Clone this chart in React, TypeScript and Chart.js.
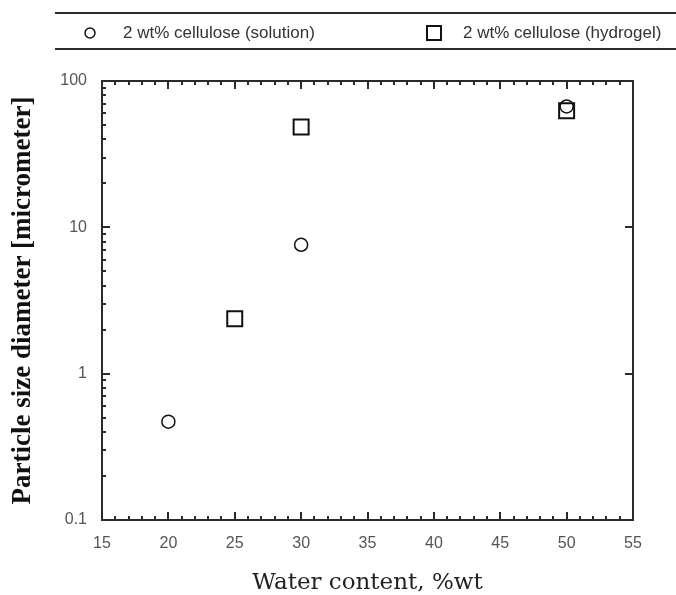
import React, { useEffect, useRef } from 'react';
import { Chart, registerables } from 'chart.js';

Chart.register(...registerables);

// ---- data ----
const seriesLabels = ['2 wt% cellulose (solution)', '2 wt% cellulose (hydrogel)'];
const solutionWater = [20, 30, 50];
const solutionSize = [0.47, 7.6, 67];
const hydrogelWater = [25, 30, 50];
const hydrogelSize = [2.37, 48.5, 62.5];
const xTickValues = [15, 20, 25, 30, 35, 40, 45, 50, 55];
const yTickValues = [0.1, 1, 10, 100];
const xTitle = 'Water content, %wt';
const yTitle = 'Particle size diameter [micrometer]';

const INK = '#2b2b2b';

const framePlugin = {
  id: 'frameTicks',
  beforeDatasetsDraw(chart: any) {
    const { ctx, chartArea: a, scales } = chart;
    const xs = scales.x;
    const ys = scales.y;
    ctx.save();
    ctx.strokeStyle = INK;
    ctx.lineWidth = 2;
    ctx.beginPath();
    // x ticks (major every 5, minor every 1), bottom and top, inward
    for (let v = xTickValues[0]; v <= xTickValues[xTickValues.length - 1]; v += 1) {
      const px = Math.round(xs.getPixelForValue(v));
      const major = xTickValues.includes(v);
      const len = major ? 8 : 4;
      ctx.moveTo(px, a.bottom);
      ctx.lineTo(px, a.bottom - len);
      ctx.moveTo(px, a.top);
      ctx.lineTo(px, a.top + len);
    }
    // y ticks (log): left major+minor, right major only
    for (let k = 0; k < yTickValues.length; k++) {
      const base = yTickValues[k];
      const py = Math.round(ys.getPixelForValue(base));
      ctx.moveTo(a.left, py);
      ctx.lineTo(a.left + 8, py);
      ctx.moveTo(a.right, py);
      ctx.lineTo(a.right - 8, py);
      if (k < yTickValues.length - 1) {
        for (let m = 2; m <= 9; m++) {
          const my = Math.round(ys.getPixelForValue(base * m));
          ctx.moveTo(a.left, my);
          ctx.lineTo(a.left + 4, my);
        }
      }
    }
    ctx.stroke();
    ctx.strokeRect(a.left, a.top, a.right - a.left, a.bottom - a.top);
    ctx.restore();
  },
};

const legendPlugin = {
  id: 'boxLegend',
  afterDraw(chart: any) {
    const { ctx } = chart;
    ctx.save();
    ctx.strokeStyle = INK;
    ctx.lineWidth = 2;
    ctx.beginPath();
    ctx.moveTo(55, 13);
    ctx.lineTo(676, 13);
    ctx.moveTo(55, 49);
    ctx.lineTo(676, 49);
    ctx.stroke();
    const items = [
      { mx: 90, tx: 123 },
      { mx: 434, tx: 463 },
    ];
    const cy = 33;
    chart.data.datasets.forEach((ds: any, i: number) => {
      const it = items[i];
      ctx.strokeStyle = '#111';
      ctx.beginPath();
      if (ds.pointStyle === 'rect') {
        ctx.lineWidth = 2;
        ctx.rect(it.mx - 7, cy - 7, 14, 14);
      } else {
        ctx.lineWidth = 1.5;
        ctx.arc(it.mx, cy, 5, 0, Math.PI * 2);
      }
      ctx.stroke();
      ctx.fillStyle = '#333';
      ctx.font = '17px "Liberation Sans", Arial, sans-serif';
      ctx.textBaseline = 'middle';
      ctx.textAlign = 'left';
      ctx.fillText(ds.label, it.tx, cy);
    });
    ctx.restore();
  },
};

export default function App() {
  const ref = useRef<HTMLCanvasElement | null>(null);
  useEffect(() => {
    document.body.style.margin = '0';
    const canvas = ref.current;
    if (!canvas) return;
    const chart = new Chart(canvas, {
      type: 'scatter',
      data: {
        datasets: [
          {
            label: seriesLabels[0],
            data: solutionWater.map((x, i) => ({ x, y: solutionSize[i] })),
            pointStyle: 'circle',
            pointRadius: 6.5,
            pointBorderWidth: 1.5,
            borderColor: '#111',
            backgroundColor: 'rgba(0,0,0,0)',
          },
          {
            label: seriesLabels[1],
            data: hydrogelWater.map((x, i) => ({ x, y: hydrogelSize[i] })),
            pointStyle: 'rect',
            pointRadius: 10.6,
            pointBorderWidth: 2,
            borderColor: '#111',
            backgroundColor: 'rgba(0,0,0,0)',
          },
        ],
      },
      options: {
        responsive: false,
        animation: false,
        events: [],
        layout: { padding: { top: 81, right: 43, left: 0, bottom: 0 } },
        plugins: { legend: { display: false }, tooltip: { enabled: false } },
        scales: {
          x: {
            type: 'linear',
            min: 15,
            max: 55,
            grid: { display: false, drawTicks: false },
            border: { display: false },
            afterBuildTicks: (s: any) => {
              s.ticks = xTickValues.map((v) => ({ value: v }));
            },
            afterFit: (s: any) => {
              s.height = 75;
            },
            ticks: {
              padding: 14,
              color: '#555',
              font: { family: '"Liberation Sans", Arial, sans-serif', size: 16 },
              maxRotation: 0,
            },
            title: {
              display: true,
              text: xTitle,
              color: '#222',
              padding: 0,
              font: { family: '"DejaVu Serif", serif', size: 23, lineHeight: 1 },
            },
          },
          y: {
            type: 'logarithmic',
            min: 0.1,
            max: 100,
            grid: { display: false, drawTicks: false },
            border: { display: false },
            afterBuildTicks: (s: any) => {
              s.ticks = yTickValues.map((v) => ({ value: v }));
            },
            afterFit: (s: any) => {
              s.width = 102;
            },
            ticks: {
              padding: 15,
              color: '#555',
              font: { family: '"Liberation Sans", Arial, sans-serif', size: 16 },
              callback: (v: any) => String(v),
            },
            title: {
              display: true,
              text: yTitle,
              color: '#111',
              padding: { top: 10, bottom: 0 },
              font: { family: '"Liberation Serif", "Times New Roman", serif', size: 27, weight: 'bold', lineHeight: 1 },
            },
          },
        },
      },
      plugins: [framePlugin, legendPlugin],
    });
    return () => chart.destroy();
  }, []);
  return (
    <div style={{ width: 676, height: 595 }}>
      <canvas ref={ref} width={676} height={595} style={{ display: 'block' }} />
    </div>
  );
}
